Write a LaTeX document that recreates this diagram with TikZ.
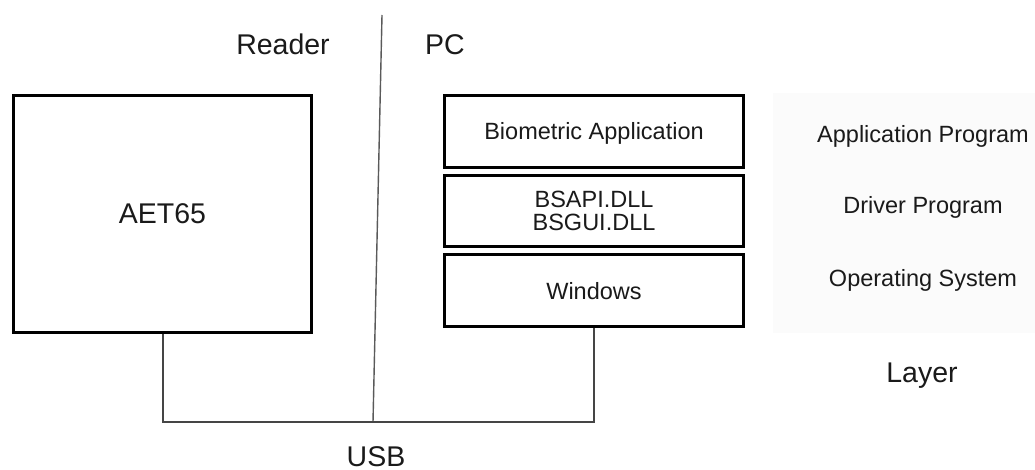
\documentclass[tikz,border=0pt]{standalone}
\usepackage{fontspec}
\setmainfont{Liberation Sans}
\definecolor{txt}{HTML}{1A1A1A}
\definecolor{wire}{HTML}{454545}
\definecolor{divc}{HTML}{5A5A5A}
\definecolor{panel}{HTML}{FBFBFB}
\tikzset{
  bigtxt/.style={font=\fontsize{28.5}{30}\selectfont, text=txt, inner sep=0pt},
  smalltxt/.style={font=\fontsize{23.5}{23}\selectfont, text=txt, inner sep=0pt},
  heavybox/.style={draw=black, line width=3pt, inner sep=0pt, fill=white},
  stackbox/.style={heavybox, smalltxt, minimum width=299pt, text height=17pt, text depth=0pt},
  wireline/.style={draw=wire, line width=2pt},
  divline/.style={draw=divc, line width=1.4pt}
}
\begin{document}
\begin{tikzpicture}[x=1pt,y=-1pt]
\useasboundingbox (0,0) rectangle (1035,470);
\fill[white] (0,0) rectangle (1035,470);
% faint panel behind layer labels
\fill[panel] (773,93) rectangle (1035,333);

% reader box
\node[heavybox, bigtxt, minimum width=298pt, minimum height=237pt, text height=20pt, text depth=0pt] (aet) at (162.5,214) {AET65};

% PC stack
\node[stackbox, minimum height=72pt] (bio) at (594,131.5) {Biometric Application};
\node[heavybox, smalltxt, minimum width=299pt, minimum height=71pt, align=center] (dll) at (594,211) {BSAPI.DLL\\BSGUI.DLL};
\node[stackbox, minimum height=72pt] (win) at (594,290.5) {Windows};

% headings
\node[bigtxt, anchor=base] (reader) at (283,55) {Reader};
\node[bigtxt, anchor=base] (pc) at (445,55) {PC};
\node[bigtxt, anchor=base] (usb) at (376,466) {USB};

% layer labels
\node[smalltxt, anchor=base] (lapp) at (923,143) {Application Program};
\node[smalltxt, anchor=base] (ldrv) at (923,214) {Driver Program};
\node[smalltxt, anchor=base] (los) at (923,286) {Operating System};
\node[bigtxt, anchor=base] (layer) at (922,382) {Layer};

% connectors
\coordinate (bus) at (373,422);
\coordinate (divtop) at (382,15);
\draw[divline] (divtop) -- (bus);
\draw[wireline] (aet.south) |- (bus) -| (win.south);
\end{tikzpicture}
\end{document}
